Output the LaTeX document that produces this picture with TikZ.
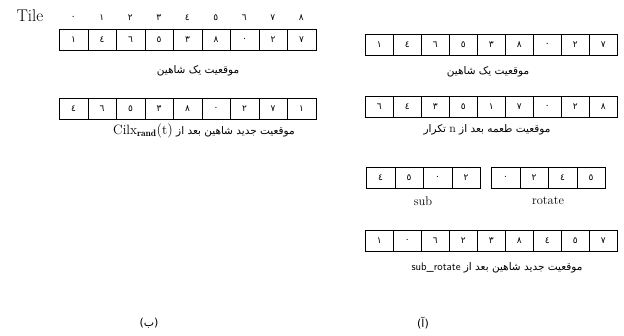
\documentclass[tikz,border=0pt]{standalone}
\usepackage{fontspec}
\newfontfamily\arabicfont[Script=Arabic]{DejaVu Sans}
\TeXXeTstate=1
\tikzset{
  cellbox/.style={draw, line width=0.7pt, minimum width=28.5pt, minimum height=21pt, inner sep=0pt, anchor=north west, font=\arabicfont\fontsize{9}{10}\selectfont},
  idxnum/.style={inner sep=0pt, font=\arabicfont\fontsize{9}{10}\selectfont},
  arlabel/.style={inner sep=0pt, font=\arabicfont\fontsize{10.5}{12}\selectfont},
  latlabel/.style={inner sep=0pt, font=\fontsize{12.5}{14}\selectfont},
}
\begin{document}
\begin{tikzpicture}[x=1pt,y=-1pt]
\useasboundingbox (0,0) rectangle (624,336);
% ---------- left (b) ----------
\node[inner sep=0pt, font=\fontsize{17}{18}\selectfont] (tile) at (30,16) {Tile};
\foreach \d [count=\i from 0] in {٠,١,٢,٣,٤,٥,٦,٧,٨}
  \node[idxnum] (idx\i) at ({59+28.5*\i+14.25},18) {\d};
\foreach \d [count=\i from 0] in {١,٤,٦,٥,٣,٨,٠,٢,٧}
  \node[cellbox] (la\i) at ({59+28.5*\i},29) {\d};
\node[arlabel] (lla) at (198,71) {\beginR موقعیت یک شاهین\endR};
\foreach \d [count=\i from 0] in {٤,٦,٥,٣,٨,٠,٢,٧,١}
  \node[cellbox] (lb\i) at ({59+28.5*\i},98) {\d};
\node[arlabel] (llb) at (204,131) {\beginR موقعیت جدید شاهین بعد از \beginL{\normalfont\fontsize{13.5}{14}\selectfont$\mathrm{Cilx}_{\mathbf{rand}}(\mathrm{t})$}\endL\endR};
\node[inner sep=0pt, font=\arabicfont\fontsize{11}{12}\selectfont] (capb) at (149,323) {\beginR(ب)\endR};
% ---------- right (a) ----------
\foreach \d [count=\i from 0] in {١,٤,٦,٥,٣,٨,٠,٢,٧}
  \node[cellbox, minimum width=28pt] (ra\i) at ({365+28*\i},34) {\d};
\node[arlabel] (rla) at (488,72) {\beginR موقعیت یک شاهین\endR};
\foreach \d [count=\i from 0] in {٦,٤,٣,٥,١,٧,٠,٢,٨}
  \node[cellbox, minimum width=28pt] (rb\i) at ({365+28*\i},96) {\d};
\node[arlabel] (rlb) at (487,130) {\beginR موقعیت طعمه بعد از \beginL{\normalfont\fontsize{12}{13}\selectfont n}\endL{} تکرار\endR};
\foreach \d [count=\i from 0] in {٤,٥,٠,٢}
  \node[cellbox] (sb\i) at ({366+28.5*\i},167) {\d};
\node[latlabel] (sublbl) at (423,201) {sub};
\foreach \d [count=\i from 0] in {٠,٢,٤,٥}
  \node[cellbox] (rt\i) at ({491+28.5*\i},167) {\d};
\node[latlabel] (rotlbl) at (548,201) {rotate};
\foreach \d [count=\i from 0] in {١,٠,٦,٢,٣,٨,٤,٥,٧}
  \node[cellbox, minimum width=28pt] (rc\i) at ({365+28*\i},230) {\d};
\node[arlabel] (rlc) at (497,268) {\beginR موقعیت جدید شاهین بعد از \beginL{\sffamily\fontsize{11}{12}\selectfont sub\_rotate}\endL\endR};
\node[inner sep=0pt, font=\arabicfont\fontsize{11}{12}\selectfont] (capa) at (423,323) {\beginR(آ)\endR};
\end{tikzpicture}
\end{document}
